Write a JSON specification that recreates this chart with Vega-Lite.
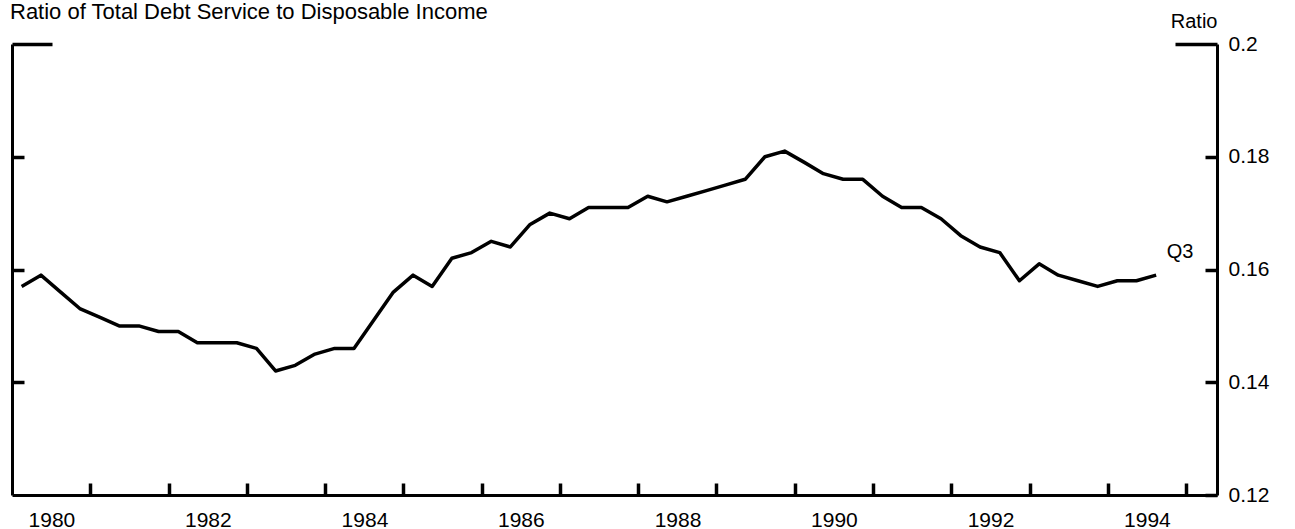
{
  "$schema": "https://vega.github.io/schema/vega-lite/v6.json",
  "width": 1205,
  "height": 451,
  "autosize": "none",
  "padding": {"left": 12, "top": 44, "right": 78, "bottom": 34},
  "background": "white",
  "title": {
    "text": "Ratio of Total Debt Service to Disposable Income",
    "anchor": "start",
    "frame": "group",
    "font": "Liberation Sans",
    "fontSize": 22,
    "fontWeight": "normal",
    "color": "black",
    "baseline": "alphabetic",
    "offset": 0,
    "dy": 30,
    "dx": -2
  },
  "data": {
    "values": [
      {"date": "1980-02-15", "ratio": 0.157},
      {"date": "1980-05-15", "ratio": 0.159},
      {"date": "1980-08-15", "ratio": 0.156},
      {"date": "1980-11-15", "ratio": 0.153},
      {"date": "1981-02-15", "ratio": 0.1515},
      {"date": "1981-05-15", "ratio": 0.150},
      {"date": "1981-08-15", "ratio": 0.150},
      {"date": "1981-11-15", "ratio": 0.149},
      {"date": "1982-02-15", "ratio": 0.149},
      {"date": "1982-05-15", "ratio": 0.147},
      {"date": "1982-08-15", "ratio": 0.147},
      {"date": "1982-11-15", "ratio": 0.147},
      {"date": "1983-02-15", "ratio": 0.146},
      {"date": "1983-05-15", "ratio": 0.142},
      {"date": "1983-08-15", "ratio": 0.143},
      {"date": "1983-11-15", "ratio": 0.145},
      {"date": "1984-02-15", "ratio": 0.146},
      {"date": "1984-05-15", "ratio": 0.146},
      {"date": "1984-08-15", "ratio": 0.151},
      {"date": "1984-11-15", "ratio": 0.156},
      {"date": "1985-02-15", "ratio": 0.159},
      {"date": "1985-05-15", "ratio": 0.157},
      {"date": "1985-08-15", "ratio": 0.162},
      {"date": "1985-11-15", "ratio": 0.163},
      {"date": "1986-02-15", "ratio": 0.165},
      {"date": "1986-05-15", "ratio": 0.164},
      {"date": "1986-08-15", "ratio": 0.168},
      {"date": "1986-11-15", "ratio": 0.170},
      {"date": "1987-02-15", "ratio": 0.169},
      {"date": "1987-05-15", "ratio": 0.171},
      {"date": "1987-08-15", "ratio": 0.171},
      {"date": "1987-11-15", "ratio": 0.171},
      {"date": "1988-02-15", "ratio": 0.173},
      {"date": "1988-05-15", "ratio": 0.172},
      {"date": "1988-08-15", "ratio": 0.173},
      {"date": "1988-11-15", "ratio": 0.174},
      {"date": "1989-02-15", "ratio": 0.175},
      {"date": "1989-05-15", "ratio": 0.176},
      {"date": "1989-08-15", "ratio": 0.180},
      {"date": "1989-11-15", "ratio": 0.181},
      {"date": "1990-02-15", "ratio": 0.179},
      {"date": "1990-05-15", "ratio": 0.177},
      {"date": "1990-08-15", "ratio": 0.176},
      {"date": "1990-11-15", "ratio": 0.176},
      {"date": "1991-02-15", "ratio": 0.173},
      {"date": "1991-05-15", "ratio": 0.171},
      {"date": "1991-08-15", "ratio": 0.171},
      {"date": "1991-11-15", "ratio": 0.169},
      {"date": "1992-02-15", "ratio": 0.166},
      {"date": "1992-05-15", "ratio": 0.164},
      {"date": "1992-08-15", "ratio": 0.163},
      {"date": "1992-11-15", "ratio": 0.158},
      {"date": "1993-02-15", "ratio": 0.161},
      {"date": "1993-05-15", "ratio": 0.159},
      {"date": "1993-08-15", "ratio": 0.158},
      {"date": "1993-11-15", "ratio": 0.157},
      {"date": "1994-02-15", "ratio": 0.158},
      {"date": "1994-05-15", "ratio": 0.158},
      {"date": "1994-08-15", "ratio": 0.159, "note": "Q3"}
    ]
  },
  "encoding": {
    "x": {
      "field": "date",
      "type": "temporal",
      "scale": {"domain": [{"year": 1980, "month": 1, "date": 1}, {"year": 1995, "month": 5, "date": 26}], "nice": false},
      "axis": {
        "title": null,
        "orient": "bottom",
        "values": [{"year": 1981}, {"year": 1982}, {"year": 1983}, {"year": 1984}, {"year": 1985}, {"year": 1986}, {"year": 1987}, {"year": 1988}, {"year": 1989}, {"year": 1990}, {"year": 1991}, {"year": 1992}, {"year": 1993}, {"year": 1994}, {"year": 1995}],
        "labelExpr": "year(datum.value) % 2 == 1 ? '' + (year(datum.value) - 1) : ''",
        "labelOffset": -39,
        "labelPadding": 26,
        "labelAlign": "center",
        "labelBaseline": "top",
        "tickSize": -12,
        "labelFlush": false,
        "labelOverlap": false
      }
    }
  },
  "layer": [
    {
      "mark": {"type": "line", "color": "black", "strokeWidth": 3.5, "strokeJoin": "round"},
      "encoding": {
        "y": {
          "field": "ratio",
          "type": "quantitative",
          "scale": {"domain": [0.12, 0.2], "nice": false, "zero": false},
          "axis": {
            "orient": "right",
            "title": "Ratio",
            "titleAngle": 0,
            "titleAlign": "right",
            "titleBaseline": "alphabetic",
            "titleX": 0,
            "titleY": -17,
            "titleFont": "Liberation Sans",
            "titleFontSize": 20,
            "titleFontWeight": "normal",
            "titleColor": "black",
            "values": [0.12, 0.14, 0.16, 0.18, 0.2],
            "format": ".2~f",
            "tickSize": {"expr": "datum.value >= 0.199 ? -42 : -12"},
            "labelPadding": {"expr": "datum.value >= 0.199 ? 53 : 23"},
            "labelFlush": false,
            "labelBaseline": "middle"
          }
        }
      }
    },
    {
      "mark": {"type": "line", "color": "black", "strokeWidth": 3.5, "opacity": 0},
      "encoding": {
        "y": {
          "field": "ratio",
          "type": "quantitative",
          "scale": {"domain": [0.12, 0.2], "nice": false, "zero": false},
          "axis": {
            "orient": "left",
            "title": null,
            "labels": false,
            "values": [0.14, 0.16, 0.18, 0.2],
            "tickSize": {"expr": "datum.value >= 0.199 ? -40 : -12"}
          }
        }
      }
    },
    {
      "transform": [{"filter": "datum.note != null"}],
      "mark": {"type": "text", "font": "Liberation Sans", "fontSize": 20, "color": "black", "dx": 24, "dy": -23, "align": "center", "baseline": "middle"},
      "encoding": {
        "y": {"field": "ratio", "type": "quantitative", "axis": null},
        "text": {"field": "note"}
      }
    }
  ],
  "resolve": {"axis": {"y": "independent"}},
  "config": {
    "view": {"stroke": null},
    "axis": {
      "grid": false,
      "domainColor": "black",
      "domainWidth": 3,
      "tickColor": "black",
      "tickWidth": 3.5,
      "labelFont": "Liberation Sans",
      "labelFontSize": 21,
      "labelColor": "black"
    }
  }
}
